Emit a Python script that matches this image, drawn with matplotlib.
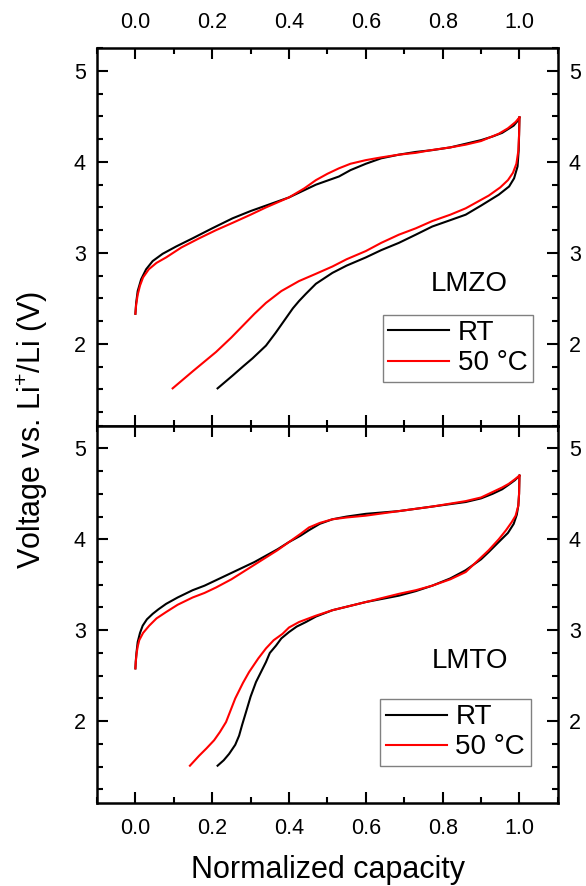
import matplotlib
matplotlib.use('Agg')
import matplotlib.pyplot as plt
from matplotlib.ticker import MultipleLocator

plt.rcParams['font.family'] = ['Liberation Sans', 'DejaVu Sans']
plt.rcParams['mathtext.fontset'] = 'custom'
plt.rcParams['mathtext.rm'] = 'Liberation Sans'
plt.rcParams['mathtext.it'] = 'Liberation Sans:italic'

# LMZO, room temperature
lmzo_rt_ch_x = [0.0, 0.002, 0.006, 0.015, 0.028, 0.045, 0.071, 0.106, 0.149, 0.20, 0.253, 0.30,
                0.34, 0.40, 0.44, 0.47, 0.53, 0.56, 0.60, 0.64, 0.686, 0.73, 0.773, 0.82, 0.86,
                0.90, 0.93, 0.955, 0.97, 0.985, 0.995, 1.0]
lmzo_rt_ch_v = [2.33, 2.45, 2.58, 2.71, 2.82, 2.91, 2.99, 3.07, 3.16, 3.27, 3.38, 3.46,
                3.52, 3.61, 3.69, 3.75, 3.84, 3.91, 3.98, 4.04, 4.08, 4.11, 4.13, 4.16, 4.20,
                4.24, 4.28, 4.32, 4.36, 4.40, 4.45, 4.49]
lmzo_rt_dis_x = [1.0, 0.999, 0.998, 0.995, 0.986, 0.973, 0.946, 0.90, 0.86, 0.82, 0.773, 0.73,
                 0.686, 0.64, 0.60, 0.55, 0.513, 0.47, 0.444, 0.426, 0.41, 0.39, 0.365, 0.34,
                 0.305, 0.28, 0.253, 0.214]
lmzo_rt_dis_v = [4.49, 4.30, 4.13, 3.95, 3.82, 3.73, 3.64, 3.52, 3.42, 3.36, 3.29, 3.20,
                 3.11, 3.03, 2.95, 2.86, 2.78, 2.66, 2.55, 2.47, 2.39, 2.27, 2.12, 1.98,
                 1.84, 1.75, 1.65, 1.51]

# LMZO, 50 °C
lmzo_ht_ch_x = [0.0, 0.002, 0.006, 0.012, 0.02, 0.035, 0.055, 0.08, 0.12, 0.166, 0.21, 0.253,
                0.30, 0.34, 0.40, 0.44, 0.47, 0.50, 0.53, 0.56, 0.60, 0.64, 0.686, 0.73, 0.77,
                0.82, 0.86, 0.90, 0.946, 0.97, 0.99, 1.0]
lmzo_ht_ch_v = [2.33, 2.43, 2.54, 2.64, 2.73, 2.82, 2.89, 2.95, 3.06, 3.16, 3.25, 3.33,
                3.42, 3.50, 3.61, 3.71, 3.80, 3.87, 3.93, 3.98, 4.02, 4.05, 4.08, 4.10, 4.13,
                4.16, 4.19, 4.23, 4.31, 4.37, 4.44, 4.49]
lmzo_ht_dis_x = [1.0, 0.999, 0.997, 0.992, 0.983, 0.97, 0.95, 0.92, 0.86, 0.82, 0.773, 0.73,
                 0.686, 0.64, 0.60, 0.55, 0.513, 0.47, 0.426, 0.38, 0.34, 0.31, 0.28, 0.25,
                 0.21, 0.15, 0.097]
lmzo_ht_dis_v = [4.49, 4.30, 4.12, 3.98, 3.88, 3.80, 3.72, 3.63, 3.49, 3.42, 3.35, 3.27,
                 3.20, 3.11, 3.02, 2.93, 2.85, 2.77, 2.69, 2.58, 2.45, 2.33, 2.20, 2.07,
                 1.91, 1.70, 1.51]

# LMTO, room temperature
lmto_rt_ch_x = [0.0, 0.001, 0.003, 0.006, 0.012, 0.019, 0.03, 0.045, 0.06, 0.08, 0.11, 0.149,
                0.18, 0.21, 0.25, 0.28, 0.31, 0.34, 0.37, 0.40, 0.43, 0.452, 0.48, 0.513, 0.55,
                0.60, 0.686, 0.773, 0.86, 0.90, 0.93, 0.955, 0.972, 0.988, 1.0]
lmto_rt_ch_v = [2.58, 2.66, 2.76, 2.87, 2.97, 3.05, 3.12, 3.18, 3.23, 3.29, 3.36, 3.44,
                3.49, 3.55, 3.63, 3.69, 3.75, 3.82, 3.89, 3.97, 4.04, 4.10, 4.17, 4.22, 4.25,
                4.28, 4.31, 4.36, 4.41, 4.45, 4.50, 4.55, 4.60, 4.65, 4.70]
lmto_rt_dis_x = [1.0, 0.999, 0.997, 0.993, 0.985, 0.97, 0.946, 0.92, 0.90, 0.86, 0.82, 0.773,
                 0.73, 0.686, 0.60, 0.513, 0.47, 0.444, 0.42, 0.40, 0.38, 0.366, 0.35, 0.34,
                 0.327, 0.314, 0.30, 0.288, 0.278, 0.27, 0.26, 0.244, 0.23, 0.214]
lmto_rt_dis_v = [4.70, 4.50, 4.37, 4.27, 4.17, 4.07, 3.97, 3.86, 3.78, 3.66, 3.57, 3.49,
                 3.43, 3.38, 3.31, 3.22, 3.15, 3.09, 3.04, 2.98, 2.91, 2.83, 2.75, 2.65,
                 2.54, 2.43, 2.27, 2.10, 1.96, 1.84, 1.74, 1.64, 1.57, 1.51]

# LMTO, 50 °C
lmto_ht_ch_x = [0.0, 0.001, 0.003, 0.006, 0.01, 0.02, 0.036, 0.055, 0.08, 0.11, 0.149, 0.18,
                0.21, 0.25, 0.28, 0.31, 0.34, 0.37, 0.40, 0.43, 0.452, 0.48, 0.513, 0.55, 0.60,
                0.686, 0.773, 0.86, 0.90, 0.93, 0.955, 0.972, 0.988, 1.0]
lmto_ht_ch_v = [2.58, 2.65, 2.74, 2.82, 2.89, 2.97, 3.05, 3.13, 3.20, 3.28, 3.36, 3.41,
                3.47, 3.56, 3.64, 3.72, 3.80, 3.88, 3.97, 4.06, 4.13, 4.18, 4.22, 4.24, 4.26,
                4.31, 4.36, 4.42, 4.46, 4.52, 4.57, 4.61, 4.66, 4.70]
lmto_ht_dis_x = [1.0, 0.999, 0.997, 0.99, 0.98, 0.965, 0.946, 0.92, 0.90, 0.86, 0.82, 0.773,
                 0.73, 0.686, 0.60, 0.513, 0.47, 0.426, 0.40, 0.383, 0.36, 0.34, 0.32, 0.296,
                 0.28, 0.26, 0.248, 0.236, 0.22, 0.205, 0.185, 0.166, 0.142]
lmto_ht_dis_v = [4.70, 4.50, 4.37, 4.26, 4.19, 4.10, 4.00, 3.88, 3.80, 3.64, 3.56, 3.49,
                 3.44, 3.40, 3.31, 3.22, 3.16, 3.09, 3.03, 2.96, 2.89, 2.80, 2.69, 2.54,
                 2.42, 2.25, 2.12, 1.99, 1.88, 1.79, 1.70, 1.62, 1.51]

panels = [
    ('LMZO', lmzo_rt_ch_x, lmzo_rt_ch_v, lmzo_rt_dis_x, lmzo_rt_dis_v,
     lmzo_ht_ch_x, lmzo_ht_ch_v, lmzo_ht_dis_x, lmzo_ht_dis_v),
    ('LMTO', lmto_rt_ch_x, lmto_rt_ch_v, lmto_rt_dis_x, lmto_rt_dis_v,
     lmto_ht_ch_x, lmto_ht_ch_v, lmto_ht_dis_x, lmto_ht_dis_v),
]

fig, axes = plt.subplots(2, 1, figsize=(5.86, 8.86), dpi=100, sharex=True)
fig.subplots_adjust(left=0.1655, right=0.952, top=0.9455, bottom=0.0937, hspace=0)

lw = 1.5
for i, (ax, p) in enumerate(zip(axes, panels)):
    name, rcx, rcv, rdx, rdv, hcx, hcv, hdx, hdv = p
    ax.plot(rcx, rcv, color='black', lw=lw, label='RT')
    ax.plot(rdx, rdv, color='black', lw=lw)
    ax.plot(hcx, hcv, color='#ff0000', lw=lw, label='50 °C')
    ax.plot(hdx, hdv, color='#ff0000', lw=lw)
    ax.set_xlim(-0.1, 1.1)
    ax.set_ylim(1.1, 5.25)
    ax.xaxis.set_major_locator(MultipleLocator(0.2))
    ax.xaxis.set_minor_locator(MultipleLocator(0.1))
    ax.yaxis.set_major_locator(MultipleLocator(1))
    ax.yaxis.set_minor_locator(MultipleLocator(0.25))
    ax.tick_params(which='both', direction='in', top=True, bottom=True, left=True, right=True,
                   width=1.5, labelsize=15.5)
    ax.tick_params(which='major', length=8)
    ax.tick_params(which='minor', length=4.5)
    ax.tick_params(axis='y', labelleft=True, labelright=True, pad=8)
    ax.tick_params(axis='x', pad=11)
    if i == 0:
        ax.tick_params(axis='x', labeltop=True, labelbottom=False)
    else:
        ax.tick_params(axis='x', labeltop=False, labelbottom=True)
    for s in ax.spines.values():
        s.set_linewidth(1.8)
    ax.xaxis.set_major_formatter(plt.FormatStrFormatter('%.1f'))
    ax.text(0.87, 2.58, name, fontsize=20, ha='center', va='baseline')

axes[0].legend(loc='lower left', bbox_to_anchor=(0.62, 0.116), borderaxespad=0, fontsize=20,
               frameon=True, fancybox=False, edgecolor='#808080', framealpha=1,
               handlelength=2.2, handletextpad=0.3, labelspacing=0.15, borderpad=0.2)
axes[1].legend(loc='lower left', bbox_to_anchor=(0.615, 0.098), borderaxespad=0, fontsize=20,
               frameon=True, fancybox=False, edgecolor='#808080', framealpha=1,
               handlelength=2.2, handletextpad=0.3, labelspacing=0.15, borderpad=0.2)
for leg in [axes[0].get_legend(), axes[1].get_legend()]:
    leg.get_frame().set_linewidth(1.0)

fig.text(0.055, 0.515, 'Voltage vs. Li$^{+}$/Li (V)', rotation=90, fontsize=22,
         ha='center', va='center')
fig.text(0.559, 1 - 878 / 886, 'Normalized capacity', fontsize=22, ha='center', va='baseline')

fig.savefig('out.png', dpi=100)
